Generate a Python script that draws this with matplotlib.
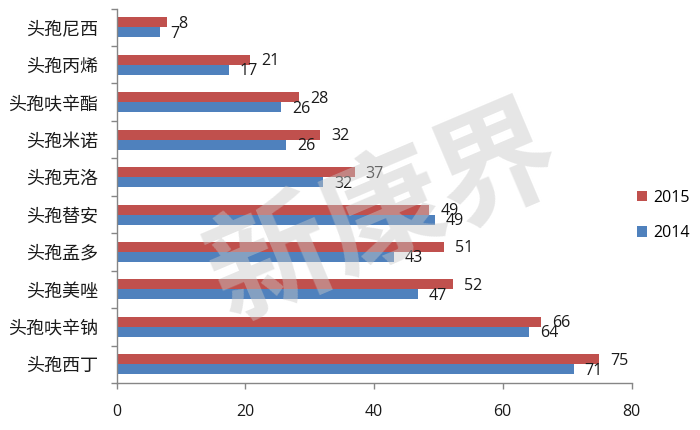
import matplotlib
matplotlib.use("Agg")
import matplotlib.pyplot as plt
import numpy as np
from matplotlib.patches import Patch

plt.rcParams['font.family'] = ['Noto Sans CJK SC', 'DejaVu Sans']
NUMFONT = ['Open Sans', 'DejaVu Sans']

categories = ['头孢尼西', '头孢丙烯', '头孢呋辛酯', '头孢米诺', '头孢克洛',
              '头孢替安', '头孢孟多', '头孢美唑', '头孢呋辛钠', '头孢西丁']
values_2015 = [7.9, 20.8, 28.4, 31.6, 37.0, 48.6, 50.9, 52.2, 65.9, 75.0]
values_2014 = [6.7, 17.4, 25.6, 26.3, 32.1, 49.4, 43.1, 46.8, 64.1, 71.0]
labels_2015 = ['8', '21', '28', '32', '37', '49', '51', '52', '66', '75']
labels_2014 = ['7', '17', '26', '26', '32', '49', '43', '47', '64', '71']
series_names = ['2015', '2014']
xticks = [0, 20, 40, 60, 80]

c15 = '#C0504D'
c14 = '#4F81BD'
axis_c = '#868686'

fig = plt.figure(figsize=(7, 4.3), dpi=100)
ax = fig.add_axes([116.5/700, 1-383/430, (631.5-116.5)/700, (383-8.6)/430])

y = np.arange(len(categories))
h = 0.267
b15 = ax.barh(y - h/2, values_2015, height=h, color=c15, zorder=2)
b14 = ax.barh(y + h/2, values_2014, height=h, color=c14, zorder=2)

for bars, labs in ((b15, labels_2015), (b14, labels_2014)):
    for r, lab in zip(bars, labs):
        ax.annotate(lab, (r.get_width(), r.get_y() + r.get_height()/2),
                    xytext=(11, -1.5), textcoords='offset pixels',
                    ha='left', va='center', fontsize=11.5, family=NUMFONT,
                    color='#1a1a1a', zorder=4)

ax.set_xlim(0, 80)
ax.set_ylim(len(categories) - 0.5, -0.5)
ax.set_xticks(xticks)
ax.set_xticklabels([str(t) for t in xticks], family=NUMFONT)
ax.set_yticks(y)
ax.set_yticklabels(categories)
ax.set_yticks(np.arange(-0.5, len(categories), 1), minor=True)

for s in ('top', 'right'):
    ax.spines[s].set_visible(False)
for s in ('left', 'bottom'):
    ax.spines[s].set_color(axis_c)
    ax.spines[s].set_linewidth(1)

ax.tick_params(axis='y', which='major', length=0, pad=13, labelsize=13, labelcolor='#1a1a1a')
ax.tick_params(axis='y', which='minor', length=4, color=axis_c, width=1)
ax.tick_params(axis='x', which='major', length=4, color=axis_c, width=1, pad=11,
               labelsize=11.5, labelcolor='#1a1a1a')

# watermark
fig.text(385/700, 1-215/430, '新康界', fontsize=88, fontweight='bold', color='#c8c8c8',
         alpha=0.45, rotation=23, ha='center', va='center', zorder=10)

handles = [Patch(facecolor=c15), Patch(facecolor=c14)]
fig.legend(handles, series_names, loc='upper left', bbox_to_anchor=(637/700, 1-190/430),
           frameon=False, prop={'family': NUMFONT, 'size': 11.5},
           handlelength=0.6, handleheight=0.6,
           handletextpad=0.4, labelspacing=1.2, borderpad=0, borderaxespad=0)

fig.savefig('out.png', dpi=100, facecolor='white')
